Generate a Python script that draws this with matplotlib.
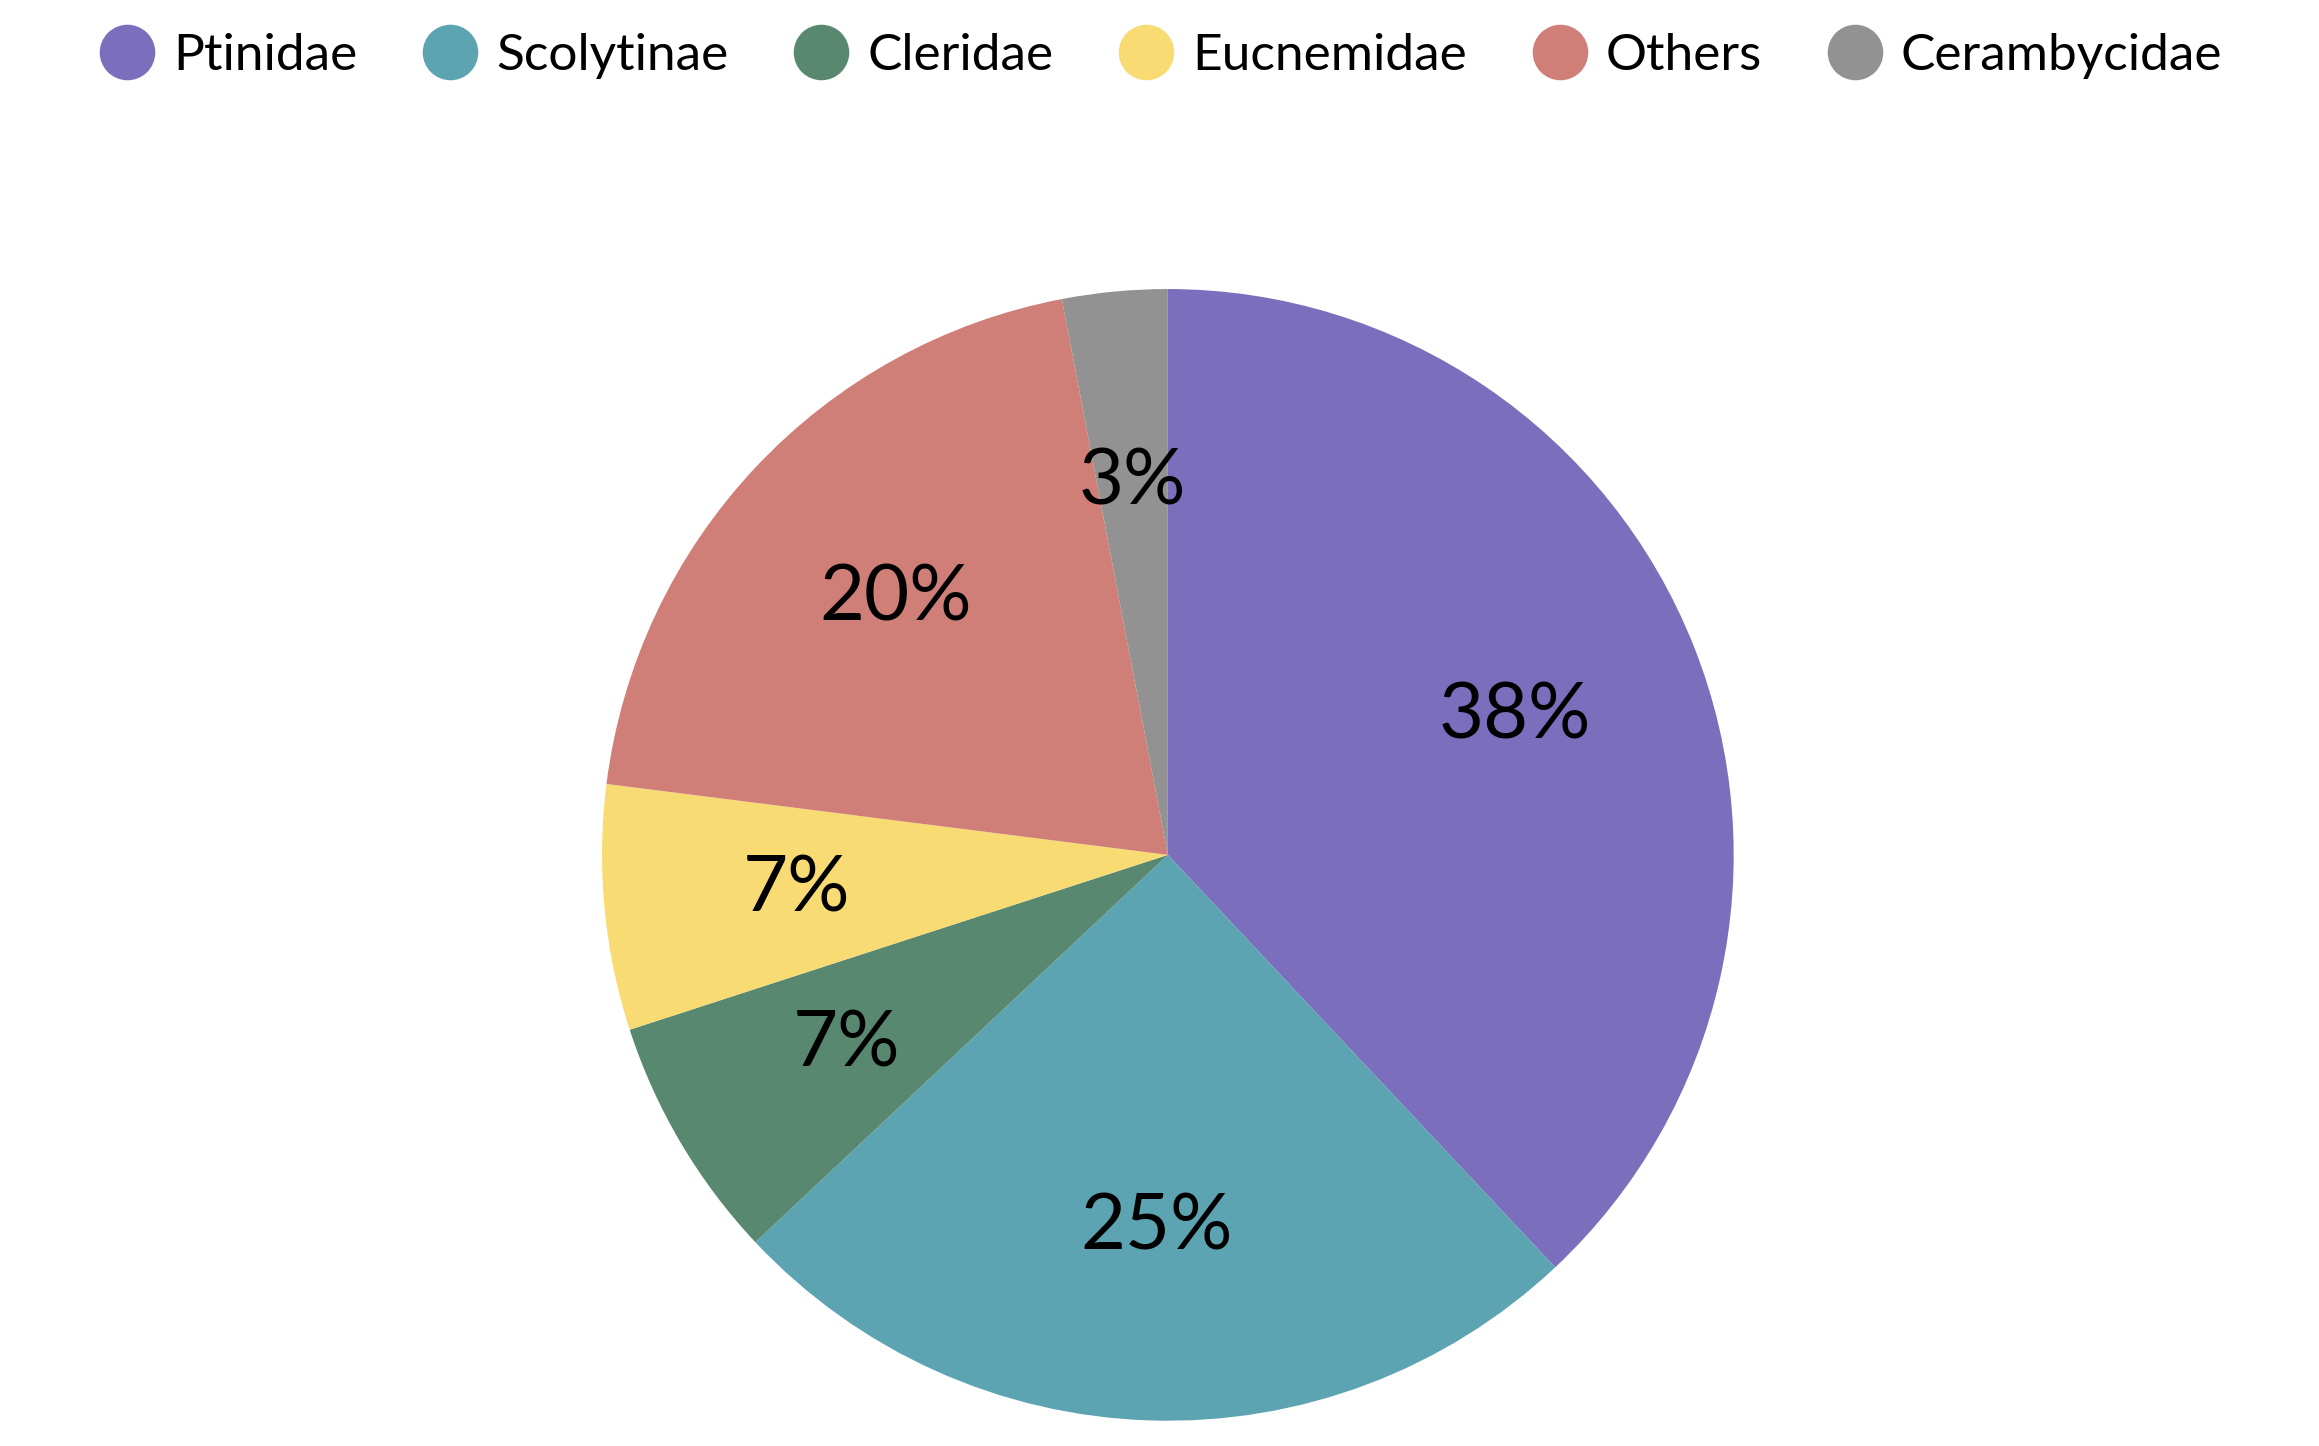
import matplotlib.pyplot as plt
from matplotlib.lines import Line2D

plt.rcParams['font.family'] = ['Lato', 'DejaVu Sans']

families = ['Ptinidae', 'Scolytinae', 'Cleridae', 'Eucnemidae', 'Others', 'Cerambycidae']
shares = [38, 25, 7, 7, 20, 3]
colors = ['#7B6FBD', '#5CA4B2', '#588870', '#F8DB72', '#CF7E78', '#929292']

fig = plt.figure(figsize=(23.19, 14.46), dpi=100)
ax = fig.add_axes([0.2596, 0.0173, 0.488, 0.783])
ax.pie(shares, colors=colors, startangle=90, counterclock=False, radius=1,
       autopct='%d%%', pctdistance=0.66,
       textprops={'fontsize': 56, 'color': 'black'},
       wedgeprops={'linewidth': 0})
ax.set_xlim(-1, 1)
ax.set_ylim(-1, 1)
ax.set_aspect('equal')

handles = [Line2D([], [], marker='o', linestyle='none', markersize=40,
                  markerfacecolor=c, markeredgewidth=0) for c in colors]
fig.legend(handles, families, loc='center', bbox_to_anchor=(0.5, 0.961), ncol=6,
           frameon=False, fontsize=37, handletextpad=0.3, columnspacing=1.2,
           handlelength=1.2)

fig.savefig('out.png', dpi=100)
